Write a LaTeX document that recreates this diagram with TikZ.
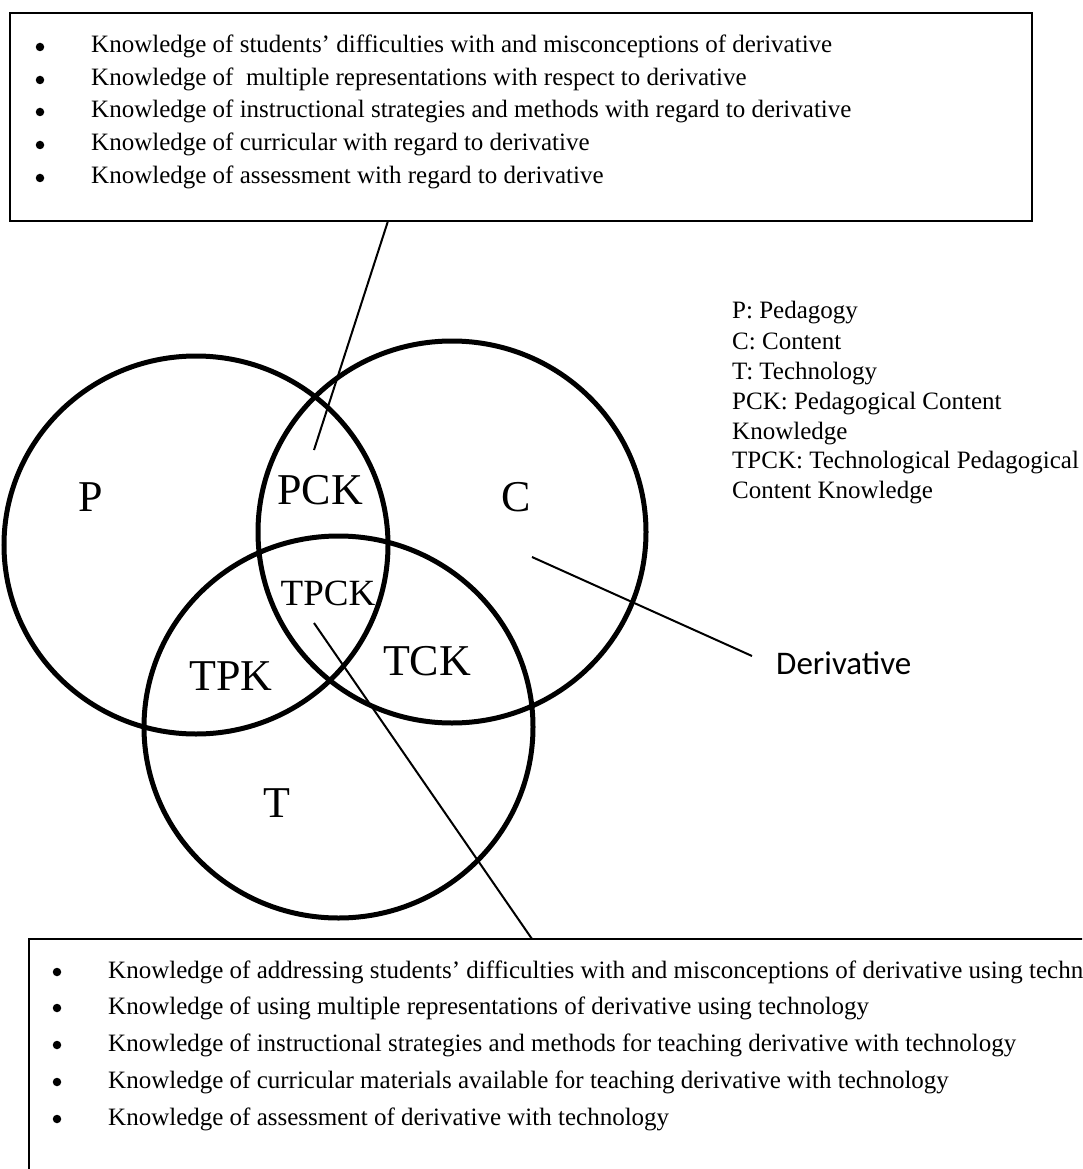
\documentclass[tikz,border=0pt]{standalone}
\usepackage{fontspec}
\setmainfont{Liberation Serif}
\newfontfamily\calibfont{Carlito}
\begin{document}
\begin{tikzpicture}[x=1pt,y=-1pt,
  venn/.style={line width=5pt},
  boxline/.style={line width=2.6pt},
  conn/.style={line width=2pt},
  itemtext/.style={anchor=base west,inner sep=0pt,font=\fontsize{25}{30}\selectfont},
  bul/.style={circle,fill=black,inner sep=0pt,minimum size=8.5pt},
  lbl/.style={inner sep=0pt,font=\fontsize{44}{52}\selectfont},
  lblsmall/.style={inner sep=0pt,font=\fontsize{37}{44}\selectfont},
  leg/.style={anchor=base west,inner sep=0pt,font=\fontsize{25}{30}\selectfont},
  derivlbl/.style={anchor=west,inner sep=0pt,font=\calibfont\fontsize{33}{40}\selectfont}]
\useasboundingbox (0,0) rectangle (1082,1169);
\clip (0,0) rectangle (1082,1169);
\fill[white] (0,0) rectangle (1082,1169);

% top box
\draw[boxline] (10,13) rectangle (1032,221);
\node[bul] (tb1) at (40,47) {};
\node[bul] (tb2) at (40,80) {};
\node[bul] (tb3) at (40,112) {};
\node[bul] (tb4) at (40,145) {};
\node[bul] (tb5) at (40,178) {};
\node[itemtext] (tt1) at (91,53) {Knowledge of students’ difficulties with and misconceptions of derivative};
\node[itemtext] (tt2) at (91,86) {Knowledge of \ multiple representations with respect to derivative};
\node[itemtext] (tt3) at (91,118) {Knowledge of instructional strategies and methods with regard to derivative};
\node[itemtext] (tt4) at (91,151) {Knowledge of curricular with regard to derivative};
\node[itemtext] (tt5) at (91,184) {Knowledge of assessment with regard to derivative};

% circles
\draw[venn] (196,545) ellipse [x radius=192pt, y radius=189pt];
\draw[venn] (452,532) ellipse [x radius=194pt, y radius=191pt];
\draw[venn] (338.5,727) ellipse [x radius=194.5pt, y radius=191pt];

% circle labels
\node[lbl] (lP) at (91,497) {P};
\node[lbl] (lPCK) at (320,490) {PCK};
\node[lbl] (lC) at (516,497) {C};
\node[lblsmall] (lTPCK) at (328,593) {TPCK};
\node[lbl] (lTPK) at (231,676) {TPK};
\node[lbl] (lTCK) at (427,661) {TCK};
\node[lbl] (lT) at (277,803) {T};

% legend
\node[leg] (g1) at (732,318) {P: Pedagogy};
\node[leg] (g2) at (732,349) {C: Content};
\node[leg] (g3) at (732,379) {T: Technology};
\node[leg] (g4) at (732,409) {PCK: Pedagogical Content};
\node[leg] (g5) at (732,439) {Knowledge};
\node[leg] (g6) at (732,468) {TPCK: Technological Pedagogical};
\node[leg] (g7) at (732,498) {Content Knowledge};

% derivative
\node[derivlbl] (deriv) at (776,663) {Derivative};

% connector end points
\coordinate (topboxpt) at (388,221);
\coordinate (pckpt) at (314,450);
\coordinate (cpt) at (532,557);
\coordinate (derivpt) at (752,656);
\coordinate (tpckpt) at (314,623);
\coordinate (botboxpt) at (532,939);

\draw[conn] (topboxpt) -- (pckpt);
\draw[conn] (cpt) -- (derivpt);
\draw[conn] (tpckpt) -- (botboxpt);

% bottom box
\draw[boxline] (29,939) rectangle (1130,1220);
\node[bul] (bb1) at (57,972) {};
\node[bul] (bb2) at (57,1008) {};
\node[bul] (bb3) at (57,1045) {};
\node[bul] (bb4) at (57,1082) {};
\node[bul] (bb5) at (57,1119) {};
\node[itemtext] (bt1) at (108,978) {Knowledge of addressing students’ difficulties with and misconceptions of derivative using technology};
\node[itemtext] (bt2) at (108,1014) {Knowledge of using multiple representations of derivative using technology};
\node[itemtext] (bt3) at (108,1051) {Knowledge of instructional strategies and methods for teaching derivative with technology};
\node[itemtext] (bt4) at (108,1088) {Knowledge of curricular materials available for teaching derivative with technology};
\node[itemtext] (bt5) at (108,1125) {Knowledge of assessment of derivative with technology};
\end{tikzpicture}
\end{document}
